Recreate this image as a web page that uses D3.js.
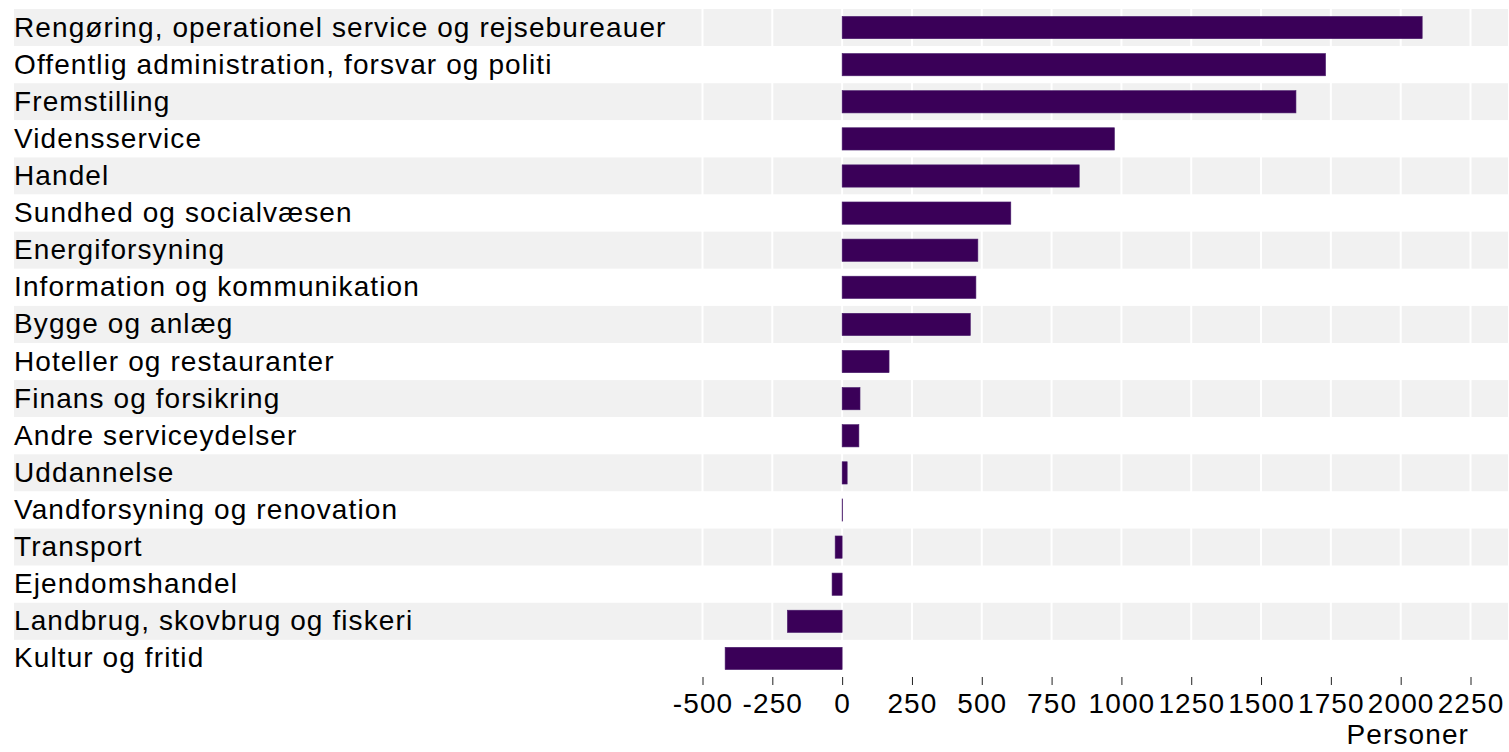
<!DOCTYPE html>
<html>
<head>
<meta charset="utf-8">
<script src="https://cdn.jsdelivr.net/npm/d3@7"></script>
<style>
  body { margin: 0; background: #fff; }
  text { font-family: "Liberation Sans", Arial, Helvetica, sans-serif; fill: #000; letter-spacing: 1.1px; }
</style>
</head>
<body>
<script>
// brancher og ændring i antal personer
var categories = [
  "Rengøring, operationel service og rejsebureauer",
  "Offentlig administration, forsvar og politi",
  "Fremstilling",
  "Vidensservice",
  "Handel",
  "Sundhed og socialvæsen",
  "Energiforsyning",
  "Information og kommunikation",
  "Bygge og anlæg",
  "Hoteller og restauranter",
  "Finans og forsikring",
  "Andre serviceydelser",
  "Uddannelse",
  "Vandforsyning og renovation",
  "Transport",
  "Ejendomshandel",
  "Landbrug, skovbrug og fiskeri",
  "Kultur og fritid"
];
var values = [2077, 1731, 1625, 975, 849, 604, 486, 479, 459, 168, 64, 60, 18, 2, -25, -36, -196, -419];
var tickValues = [-500, -250, 0, 250, 500, 750, 1000, 1250, 1500, 1750, 2000, 2250];
var axisTitle = "Personer";

var width = 1509, height = 752;
var fontSize = 28;

var svg = d3.select("body").append("svg")
            .attr("width", width)
            .attr("height", height);

var x = d3.scaleLinear().domain([-500, 2250]).range([702.5, 1470.5]);
var y = d3.scaleBand().domain(categories).range([9, 677]);
var barH = y.bandwidth() * 0.6;

// rækkebånd
svg.append("g").attr("class", "bands")
   .selectAll("rect")
   .data(categories)
   .enter().append("rect")
   .attr("x", 14)
   .attr("y", function (d) { return y(d); })
   .attr("width", width - 1 - 14)
   .attr("height", y.bandwidth())
   .attr("fill", function (d, i) { return i % 2 === 0 ? "#f1f1f1" : "#ffffff"; });

// gitterlinjer
svg.append("g").attr("class", "grid")
   .selectAll("line")
   .data(tickValues)
   .enter().append("line")
   .attr("x1", function (d) { return x(d); })
   .attr("x2", function (d) { return x(d); })
   .attr("y1", 9)
   .attr("y2", 677)
   .attr("stroke", "#ffffff")
   .attr("stroke-width", 2);

// søjler
svg.append("g").attr("class", "bars")
   .selectAll("rect")
   .data(values)
   .enter().append("rect")
   .attr("x", function (d) { return x(Math.min(0, d)); })
   .attr("y", function (d, i) { return y(categories[i]) + (y.bandwidth() - barH) / 2; })
   .attr("width", function (d) { return Math.abs(x(d) - x(0)); })
   .attr("height", barH)
   .attr("fill", "#3a0058")
   .attr("stroke", "#4a1d6c")
   .attr("stroke-width", 0.6);

// kategorietiketter
svg.append("g").attr("class", "labels")
   .selectAll("text")
   .data(categories)
   .enter().append("text")
   .attr("x", 14)
   .attr("y", function (d) { return y(d) + y.bandwidth() / 2; })
   .attr("dy", "0.32em")
   .attr("font-size", fontSize)
   .text(function (d) { return d; });

// x-akse
var xAxis = d3.axisBottom(x)
              .tickValues(tickValues)
              .tickSize(8)
              .tickPadding(8)
              .tickFormat(function (d) { return String(d); });

var axisG = svg.append("g")
               .attr("transform", "translate(0,677)")
               .call(xAxis);
axisG.select(".domain").remove();
axisG.selectAll(".tick line").attr("stroke", "#222").attr("stroke-width", 1);
axisG.selectAll(".tick text")
     .attr("font-size", fontSize)
     .attr("font-family", "Liberation Sans, Arial, sans-serif")
     .attr("fill", "#000");

svg.append("text")
   .attr("x", 1469)
   .attr("y", 743.5)
   .attr("text-anchor", "end")
   .attr("font-size", fontSize)
   .text(axisTitle);
</script>
</body>
</html>
